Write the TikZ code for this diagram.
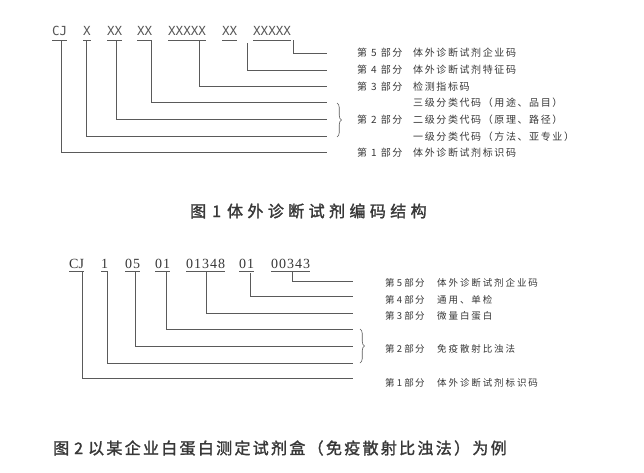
\documentclass[tikz,border=0pt]{standalone}
\usepackage{fontspec}
\setmainfont{Liberation Serif}
\newfontfamily\cjk{Noto Sans CJK SC}
\newfontfamily\cjkt{Noto Sans CJK SC}[FakeBold=1.6]
\newfontfamily\monof{DejaVu Sans Mono}
\usetikzlibrary{calc,decorations.pathreplacing}
\newlength\lspk
\def\lsp#1#2{\setlength\lspk{#1}\lspA#2\relax}
\def\lspA#1{#1\futurelet\lspnext\lspB}
\def\lspB{\ifx\lspnext\relax\expandafter\lspC\else\kern\lspk\expandafter\lspA\fi}
\def\lspC\relax{}
\newcommand\bfA[1]{第\kern4pt#1\kern4pt部\kern1.6pt分}
\newcommand\bfB[1]{第\kern2.2pt#1\kern2.2pt部\kern1.2pt分}
\definecolor{ink}{HTML}{383838}
\definecolor{lin}{HTML}{5A5A5A}
\begin{document}
\begin{tikzpicture}[x=1pt,y=-1pt,
  codeA/.style={anchor=base west,inner sep=0pt,text=ink!85,font=\monof\fontsize{12.5}{14}\selectfont},
  codeB/.style={anchor=base west,inner sep=0pt,text=ink,font=\fontsize{14}{16}\selectfont},
  labA/.style={anchor=west,inner sep=0pt,text=ink,font=\cjk\fontsize{10}{12}\selectfont},
  labB/.style={anchor=west,inner sep=0pt,text=ink,font=\cjk\fontsize{9.5}{11}\selectfont},
  ttl/.style={anchor=west,inner sep=0pt,text=ink,font=\cjkt\fontsize{16}{18}\selectfont},
  conn/.style={draw=lin,line width=0.7pt},
  ul/.style={draw=lin,line width=0.7pt},
  brc/.style={draw=lin,line width=0.6pt,decorate,decoration={brace,amplitude=4.5pt}}]
\useasboundingbox[fill=white] (0,0) rectangle (644,472);

% ---------- Figure 1 ----------
\node[codeA] (a1) at (52,35) {CJ};
\node[codeA] (a2) at (83,35) {X};
\node[codeA] (a3) at (107,35) {XX};
\node[codeA] (a4) at (137,35) {XX};
\node[codeA] (a5) at (168,35) {XXXXX};
\node[codeA] (a6) at (222,35) {XX};
\node[codeA] (a7) at (253,35) {XXXXX};
\foreach \n in {a1,a2,a3,a4,a5,a6,a7}
  \draw[ul] ($(\n.base west)+(0,5)$) -- ($(\n.base east)+(0,5)$);

\coordinate (ea5) at (327,53);
\coordinate (ea4) at (327,70);
\coordinate (ea3) at (327,86);
\coordinate (ea2c) at (327,102);
\coordinate (ea2b) at (327,119);
\coordinate (ea2a) at (327,136);
\coordinate (ea1) at (327,152);

\draw[conn] ($(a7.base west)+(40,5)$) |- (ea5);
\draw[conn] ($(a6.base west)+(25,8)$) |- (ea4);
\draw[conn] ($(a5.base west)+(31,5)$) |- (ea3);
\draw[conn] ($(a4.base west)+(14,5)$) |- (ea2c);
\draw[conn] ($(a3.base west)+(9,5)$) |- (ea2b);
\draw[conn] ($(a2.base west)+(3.5,5)$) |- (ea2a);
\draw[conn] ($(a1.base west)+(9,5)$) |- (ea1);

\draw[brc] (337,103) -- (337,137);

\node[labA] (pa5) at (357,53) {\bfA{5}};
\node[labA] (ta5) at (413,53) {\lsp{1.6pt}{体外诊断试剂企业码}};
\node[labA] (pa4) at (357,70) {\bfA{4}};
\node[labA] (ta4) at (413,70) {\lsp{1.6pt}{体外诊断试剂特征码}};
\node[labA] (pa3) at (357,87) {\bfA{3}};
\node[labA] (ta3) at (413,87) {\lsp{1.6pt}{检测指标码}};
\node[labA] (ta2c) at (413,103) {\lsp{1.6pt}{三级分类代码（用途、品目）}};
\node[labA] (pa2) at (357,120) {\bfA{2}};
\node[labA] (ta2b) at (413,120) {\lsp{1.6pt}{二级分类代码（原理、路径）}};
\node[labA] (ta2a) at (413,137) {\lsp{1.6pt}{一级分类代码（方法、亚专业）}};
\node[labA] (pa1) at (357,153) {\bfA{1}};
\node[labA] (ta1) at (413,153) {\lsp{1.6pt}{体外诊断试剂标识码}};

\node[ttl] (t1) at (190,211) {图\kern6pt 1\kern6pt\lsp{4.4pt}{体外诊断试剂编码结构}};

% ---------- Figure 2 ----------
\node[codeB] (b1) at (69,268) {CJ};
\node[codeB] (b2) at (101,268) {1};
\node[codeB] (b3) at (125,268) {\lsp{1pt}{05}};
\node[codeB] (b4) at (155,268) {\lsp{1pt}{01}};
\node[codeB] (b5) at (186,268) {\lsp{1pt}{01348}};
\node[codeB] (b6) at (239,268) {\lsp{1pt}{01}};
\node[codeB] (b7) at (271,268) {\lsp{1pt}{00343}};
\foreach \n in {b1,b2,b3,b4,b5,b6,b7}
  \draw[ul] ($(\n.base west)+(0,3)$) -- ($(\n.base east)+(0,3)$);

\coordinate (eb5) at (353,281);
\coordinate (eb4) at (353,296);
\coordinate (eb3) at (353,313);
\coordinate (eb2c) at (353,329);
\coordinate (eb2b) at (353,346);
\coordinate (eb2a) at (353,363);
\coordinate (eb1) at (353,378);

\draw[conn] ($(b7.base west)+(21,3)$) |- (eb5);
\draw[conn] ($(b6.base west)+(11,5)$) |- (eb4);
\draw[conn] ($(b5.base west)+(20,3)$) |- (eb3);
\draw[conn] ($(b4.base west)+(11,3)$) |- (eb2c);
\draw[conn] ($(b3.base west)+(10,3)$) |- (eb2b);
\draw[conn] ($(b2.base west)+(6,3)$) |- (eb2a);
\draw[conn] ($(b1.base west)+(13,3)$) |- (eb1);

\draw[brc] (360,329) -- (360,363);

\node[labB] (pb5) at (385,283) {\bfB{5}};
\node[labB] (tb5) at (437,283) {\lsp{1.9pt}{体外诊断试剂企业码}};
\node[labB] (pb4) at (385,300) {\bfB{4}};
\node[labB] (tb4) at (437,300) {\lsp{1.9pt}{通用、单检}};
\node[labB] (pb3) at (385,316) {\bfB{3}};
\node[labB] (tb3) at (437,316) {\lsp{1.9pt}{微量白蛋白}};
\node[labB] (pb2) at (385,349) {\bfB{2}};
\node[labB] (tb2) at (437,349) {\lsp{1.9pt}{免疫散射比浊法}};
\node[labB] (pb1) at (385,383) {\bfB{1}};
\node[labB] (tb1) at (437,383) {\lsp{1.9pt}{体外诊断试剂标识码}};

\node[ttl] (t2) at (53,448) {图\kern5pt 2\kern5pt\lsp{2.3pt}{以某企业白蛋白测定试剂盒（免疫散射比浊法）为例}};
\end{tikzpicture}
\end{document}
